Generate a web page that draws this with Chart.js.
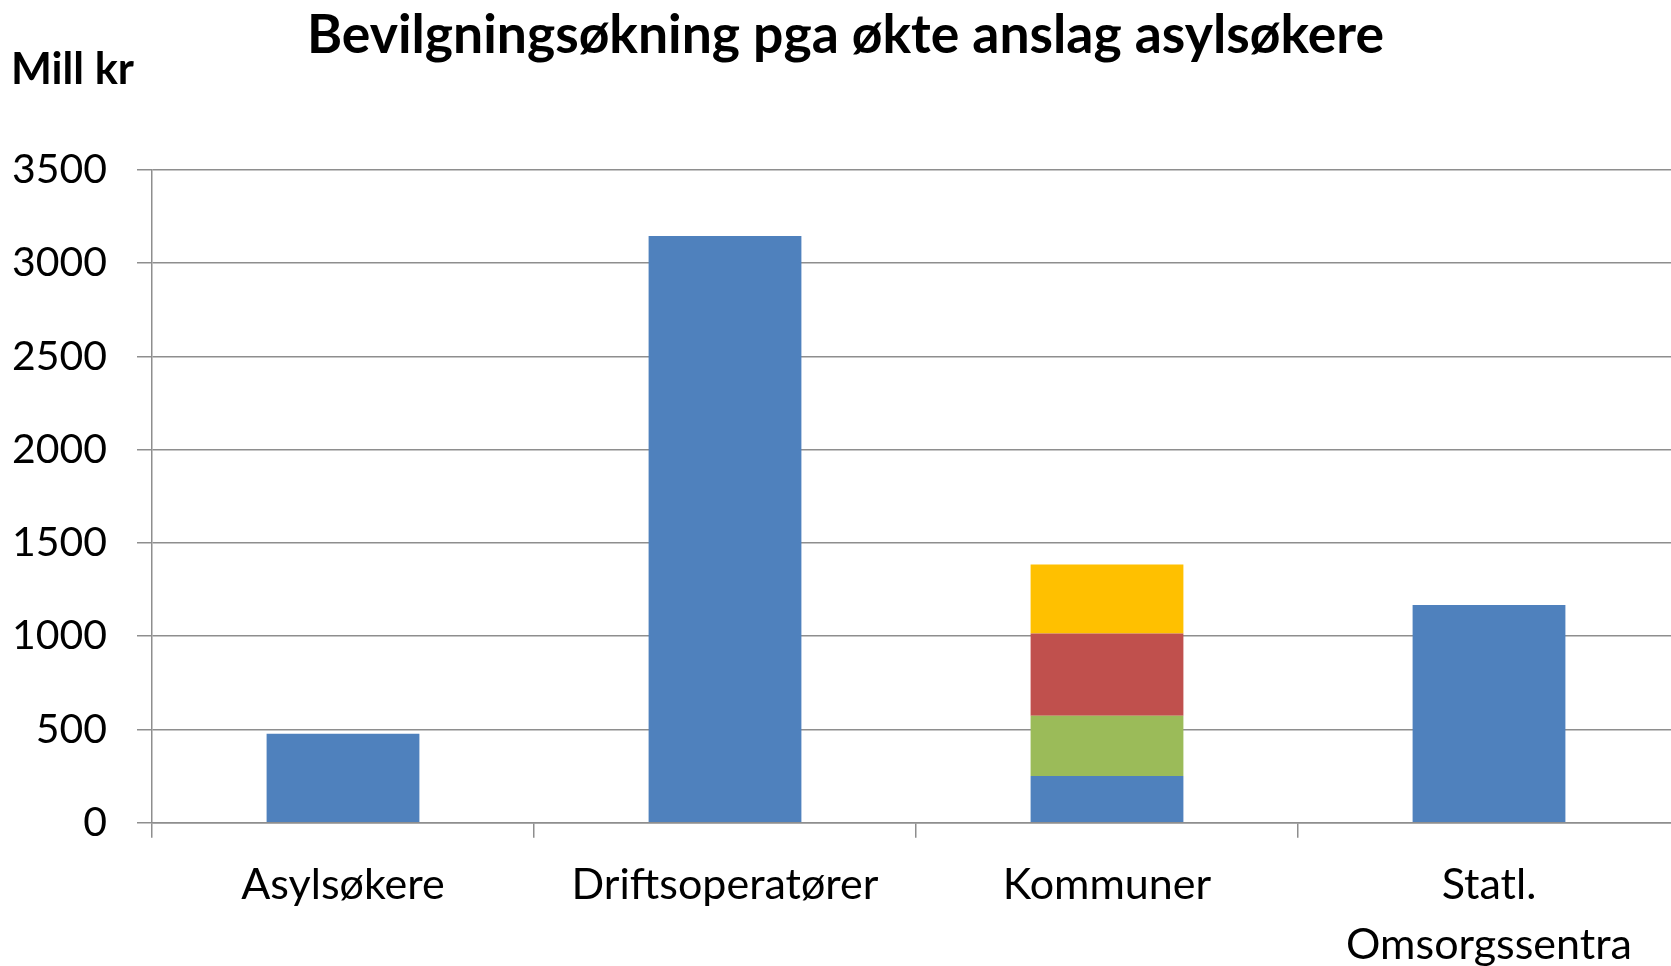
<!DOCTYPE html>
<html><head><meta charset="utf-8">
<script src="https://cdn.jsdelivr.net/npm/chart.js@4/dist/chart.umd.min.js"></script>
<style>
html,body{margin:0;padding:0;overflow:hidden;background:#fff;width:1671px;height:966px}
#wrap{width:1680px;height:966px}
</style>
</head><body><div id="wrap"><canvas id="c" width="1680" height="966"></canvas></div>
<script>
const chartTitle = 'Bevilgningsøkning pga økte anslag asylsøkere';
const unitLabel = 'Mill kr';
const categories = ['Asylsøkere', 'Driftsoperatører', 'Kommuner', ['Statl.', 'Omsorgssentra']];
const seriesBlue = [477, 3146, 251, 1168];
const seriesGreen = [null, null, 322, null];
const seriesRed = [null, null, 441, null];
const seriesYellow = [null, null, 371, null];
const yMin = 0, yMax = 3500, yStep = 500;

const FAM = 'Lato, "Open Sans", sans-serif';
function fit(text, weight, target) {
  const c = document.createElement('canvas').getContext('2d');
  c.font = weight + ' 100px ' + FAM;
  return 100 * target / c.measureText(text).width;
}
const titleSize = fit(chartTitle, 'bold', 1077);
const unitSize = fit(unitLabel, 'bold', 123);
const xSize = fit('Driftsoperatører', 'normal', 307);
const ySize = fit('3500', 'normal', 95);

const tLH = 0.8, uLH = 0.8;
const titleTop = 36 - titleSize * tLH / 2;
const titleBottom = titleTop + titleSize * tLH;
const unitTop = 70 - titleBottom - unitSize * uLH / 2;
const unitBottom = 170 - (titleBottom + unitTop + unitSize * uLH);
const xLinePx = 59.5;
const xPad = 885 - (822.7 + 15) - 58.6 / 2;

const gridColor = '#8e8e8e';
new Chart(document.getElementById('c'), {
  type: 'bar',
  data: {
    labels: categories,
    datasets: [
      { data: seriesBlue, backgroundColor: '#4F81BD' },
      { data: seriesGreen, backgroundColor: '#9BBB59' },
      { data: seriesRed, backgroundColor: '#C0504D' },
      { data: seriesYellow, backgroundColor: '#FFC000' }
    ]
  },
  options: {
    responsive: false,
    animation: false,
    devicePixelRatio: 1,
    layout: { padding: { left: 11, right: 0, top: 0, bottom: 0 } },
    datasets: { bar: { barPercentage: 0.4, categoryPercentage: 1.0, borderWidth: 0 } },
    plugins: {
      legend: { display: false },
      tooltip: { enabled: false },
      title: {
        display: true, text: chartTitle, color: '#000', align: 'center',
        font: { family: FAM, size: titleSize, weight: 'bold', lineHeight: tLH },
        padding: { top: titleTop, bottom: 0 }
      },
      subtitle: {
        display: true, text: unitLabel, color: '#000', align: 'start',
        font: { family: FAM, size: unitSize, weight: 'bold', lineHeight: uLH },
        padding: { top: unitTop, bottom: unitBottom }
      }
    },
    scales: {
      x: {
        stacked: true,
        grid: { display: true, drawOnChartArea: false, drawTicks: true, tickLength: 15, color: gridColor, lineWidth: 1.5, offset: true },
        border: { display: true, color: gridColor, width: 1.5 },
        ticks: { color: '#000', font: { family: FAM, size: xSize, lineHeight: xLinePx / xSize }, padding: xPad, maxRotation: 0, autoSkip: false },
        afterFit: s => { s.height = 966 - 822.7; }
      },
      y: {
        stacked: true, min: yMin, max: yMax,
        grid: { color: gridColor, lineWidth: 1.5, drawTicks: true, tickLength: 15 },
        border: { display: true, color: gridColor, width: 1.5 },
        ticks: { stepSize: yStep, color: '#000', font: { family: FAM, size: ySize }, padding: 30, callback: v => String(v) },
        afterFit: s => { s.width = 141; }
      }
    }
  }
});
</script>
</body></html>
